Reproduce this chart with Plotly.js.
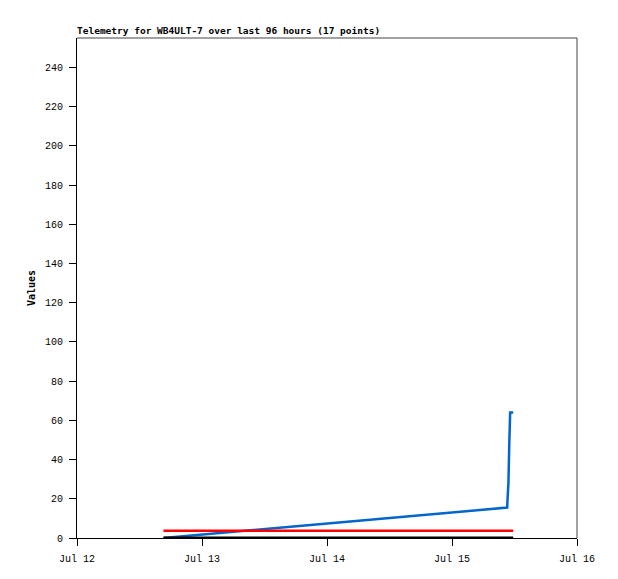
<!DOCTYPE html>
<html>
<head>
<meta charset="utf-8">
<script src="https://cdn.plot.ly/plotly-3.0.1.min.js"></script>
<style>
html,body{margin:0;padding:0;background:#fff;}
#chart{width:618px;height:579px;}
</style>
</head>
<body>
<div id="chart"></div>
<script>
// Sample times (17 points)
const times = [
  "2024-07-12 16:36", "2024-07-12 22:36", "2024-07-13 04:36", "2024-07-13 10:36",
  "2024-07-13 16:36", "2024-07-13 22:36", "2024-07-14 04:36", "2024-07-14 10:36",
  "2024-07-14 16:36", "2024-07-14 22:36", "2024-07-15 04:36", "2024-07-15 10:36",
  "2024-07-15 10:40", "2024-07-15 10:50", "2024-07-15 11:00", "2024-07-15 11:10",
  "2024-07-15 11:45"
];
// Series values
const blueValues = [0, 1.4, 2.8, 4.2, 5.6, 7.0, 8.5, 9.9, 11.3, 12.7, 14.1, 15.5, 20, 28, 48, 64, 64];
const redValues = [3.7, 3.7, 3.7, 3.7, 3.7, 3.7, 3.7, 3.7, 3.7, 3.7, 3.7, 3.7, 3.7, 3.7, 3.7, 3.7, 3.7];
const blackValues = [0, 0, 0, 0, 0, 0, 0, 0, 0, 0, 0, 0, 0, 0, 0, 0, 0];
const xRange = ["2024-07-12 00:00", "2024-07-16 00:00"];
const yRange = [0, 255];
const titleText = "Telemetry for WB4ULT-7 over last 96 hours (17 points)";

const tickFont = {family: "Liberation Mono, monospace", size: 10, color: "#000"};

const traces = [
  {x: times, y: blueValues, type: "scatter", mode: "lines", line: {color: "#0066cc", width: 2.5}, hoverinfo: "skip"},
  {x: times, y: redValues, type: "scatter", mode: "lines", line: {color: "#ff0000", width: 2.5}, hoverinfo: "skip"},
  {x: times, y: blackValues, type: "scatter", mode: "lines", line: {color: "#000000", width: 3}, hoverinfo: "skip"}
];

const layout = {
  width: 618, height: 579,
  margin: {l: 77, r: 41, t: 38, b: 41, pad: 0},
  paper_bgcolor: "#fff", plot_bgcolor: "#fff",
  showlegend: false,
  title: {
    text: titleText,
    font: {family: "DejaVu Sans Mono, monospace", size: 9.5, color: "#000", weight: "bold"},
    x: 0, xanchor: "left", xref: "paper",
    y: 1 - 31/579, yanchor: "middle", yref: "container"
  },
  xaxis: {
    type: "date", range: xRange,
    dtick: 86400000, tickformat: "%b %d",
    showgrid: false, zeroline: false,
    showline: true, linecolor: "#000", linewidth: 1,
    ticks: "outside", ticklen: 7, tickcolor: "#000", tickwidth: 1,
    tickfont: tickFont, ticklabelstandoff: 4
  },
  yaxis: {
    range: yRange, tick0: 0, dtick: 20,
    showgrid: false, zeroline: false,
    showline: true, linecolor: "#000", linewidth: 1,
    ticks: "outside", ticklen: 7, tickcolor: "#000", tickwidth: 1,
    tickfont: tickFont, ticklabelstandoff: 4,
    title: {text: "Values", font: {family: "DejaVu Sans Mono, monospace", size: 10, color: "#000", weight: "bold"}, standoff: 7}
  },
  shapes: [
    {type: "line", xref: "paper", yref: "paper", x0: 0, x1: 1, y0: 1, y1: 1, line: {color: "#444", width: 1}},
    {type: "line", xref: "paper", yref: "paper", x0: 1, x1: 1, y0: 0, y1: 1, line: {color: "#444", width: 1}}
  ]
};

Plotly.newPlot("chart", traces, layout, {displayModeBar: false, staticPlot: true});
</script>
</body>
</html>
